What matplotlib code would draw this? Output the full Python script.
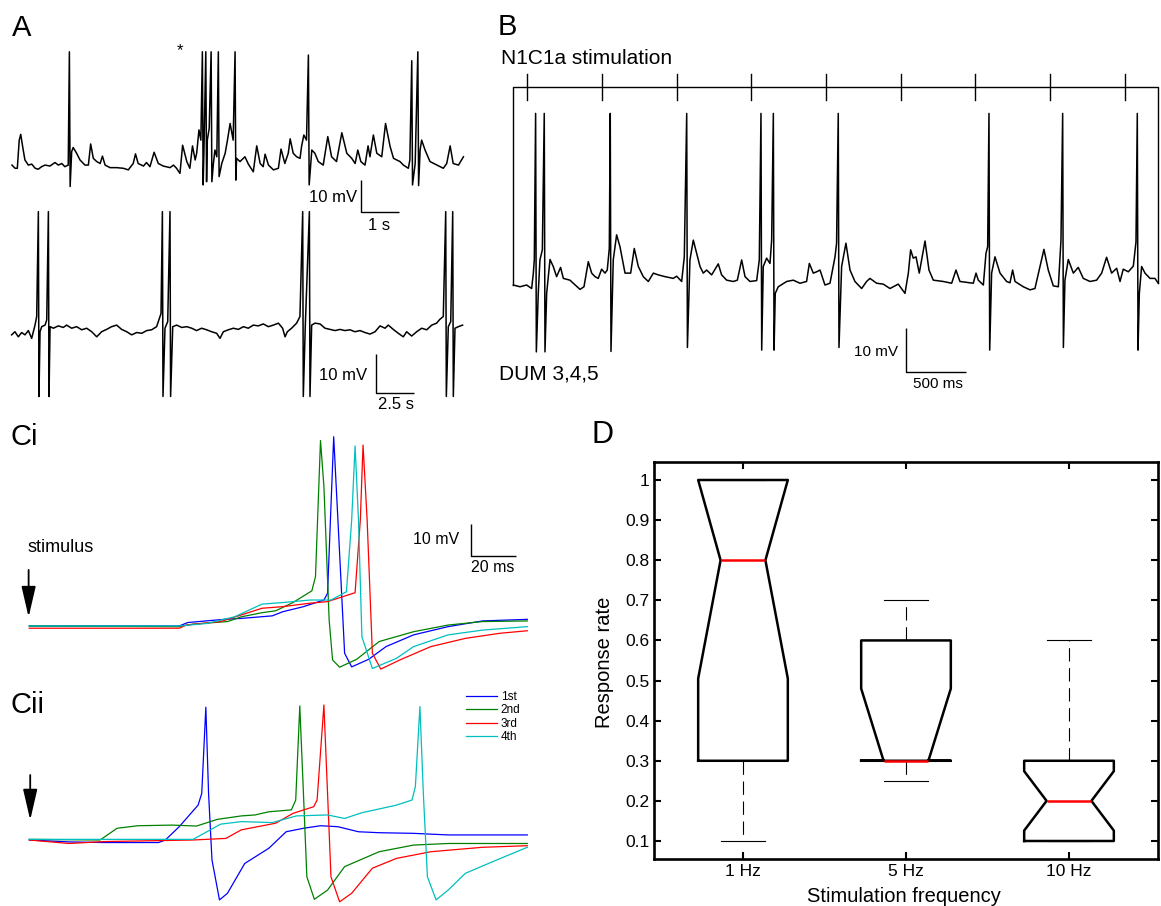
import numpy as np
import matplotlib
matplotlib.use("Agg")
import matplotlib.pyplot as plt

plt.rcParams['font.family'] = ['Liberation Sans', 'DejaVu Sans']

# ---------------------------------------------------------------- data ----
# Panel A, upper recording: (time s, membrane potential mV re. rest)
a_top_trace = [
    (0.00, 0.6), (0.08, -0.4), (0.14, -0.4), (0.19, 8.4), (0.23, 10.2), (0.28, 6.4), (0.34, 2.2),
    (0.43, 0.6), (0.52, 0.9), (0.61, -0.4), (0.69, -0.7), (0.78, 0.1), (0.87, 0.6), (1.00, 0.3),
    (1.13, 1.4), (1.22, 0.6), (1.31, 1.1), (1.39, 0.1), (1.48, 0.6), (1.57, 4.8), (1.61, 6.1),
    (1.70, 4.3), (1.79, 2.2), (1.92, 0.6), (2.01, 0.6), (2.07, 7.2), (2.14, 2.7), (2.23, 1.7),
    (2.32, 1.1), (2.38, 3.4), (2.45, 0.6), (2.58, -0.2), (2.75, -0.2), (2.93, -0.4), (3.06, -0.9),
    (3.19, 1.1), (3.25, 4.1), (3.32, 1.1), (3.46, 0.3), (3.54, 1.4), (3.63, 0.1), (3.74, 4.6),
    (3.85, 1.1), (3.98, 0.3), (4.16, -0.2), (4.25, 0.6), (4.33, -0.4), (4.42, -2.0), (4.49, 6.8),
    (4.60, 1.7), (4.68, -0.4), (4.75, 6.6), (4.82, 2.2), (4.86, 4.3), (4.92, 11.6), (4.97, 8.4),
    (5.05, 4.3), (5.14, 8.4), (5.19, 12.1), (5.30, 1.1), (5.34, 5.3), (5.39, 3.2), (5.52, 1.1),
    (5.61, 4.3), (5.67, 8.4), (5.74, 13.6), (5.82, 8.4), (5.91, 2.7), (6.00, 1.7), (6.13, 3.2),
    (6.22, 0.9), (6.35, -1.5), (6.44, 6.6), (6.53, 1.1), (6.61, 0.1), (6.66, 4.0), (6.75, 0.6),
    (6.88, -0.9), (7.01, -0.4), (7.08, 5.6), (7.18, 1.1), (7.27, 4.3), (7.32, 8.8), (7.40, 4.3),
    (7.49, 3.2), (7.58, 2.7), (7.62, 6.4), (7.68, 10.0), (7.75, 8.4), (7.89, 5.3), (7.97, 4.3),
    (8.06, 1.7), (8.19, 0.6), (8.31, 9.5), (8.41, 3.2), (8.54, 1.7), (8.68, 10.7), (8.81, 4.3),
    (8.94, 2.7), (9.03, 1.1), (9.10, 5.3), (9.18, 1.7), (9.29, 0.6), (9.37, 6.6), (9.42, 3.2),
    (9.51, 10.0), (9.60, 4.3), (9.73, 3.2), (9.83, 13.6), (9.95, 6.4), (10.04, 2.7), (10.21, 1.7),
    (10.30, 0.6), (10.43, -0.4), (10.47, 2.2), (10.61, 1.1), (10.74, 5.3), (10.78, 8.4),
    (10.87, 5.3), (11.00, 1.7), (11.18, 0.6), (11.35, -0.4), (11.44, 1.1), (11.53, 6.6),
    (11.61, 1.1), (11.75, 0.6), (11.88, 3.2),
]
# spikes: (time s, peak mV, undershoot mV)
a_top_spikes = [(1.51, 36, -6.1), (5.01, 36, -5.6), (5.10, 36, -4.6), (5.24, 36, -4.6),
                (5.43, 36, -3.0), (5.87, 36, -4.1), (7.80, 35, -5.6), (10.52, 33.2, -5.6),
                (10.68, 36, -5.8)]

# Panel A, lower recording
a_bot_trace = [
    (0.04, -0.4), (0.26, 0.4), (0.48, -0.9), (0.70, 0.2), (0.92, -0.4), (1.14, 0.7), (1.36, -1.3),
    (1.47, 0.4), (1.58, 2.1), (1.69, 4.3), (1.91, 0.4), (2.02, 1.7), (2.24, 2.1), (2.35, 3.4),
    (2.57, 1.7), (2.79, 1.3), (3.11, 1.9), (3.44, 1.5), (3.66, 2.1), (3.99, 1.3), (4.32, 1.7),
    (4.65, 0.9), (4.98, 1.3), (5.31, 0.4), (5.64, -0.9), (5.96, 0.4), (6.29, 1.0), (6.62, 1.7),
    (6.95, 2.1), (7.28, 1.0), (7.61, 0.4), (7.94, -0.4), (8.27, 0.2), (8.60, 0.0), (8.93, 0.7),
    (9.25, 0.9), (9.58, 1.7), (9.76, 3.8), (9.87, 5.1), (10.13, 1.3), (10.31, 3.0), (10.64, 1.7),
    (10.90, 2.1), (11.23, 1.5), (11.56, 1.7), (11.89, 1.3), (12.21, 0.7), (12.54, 1.3),
    (12.87, 0.9), (13.20, 0.4), (13.53, 0.0), (13.75, -1.3), (13.97, 0.4), (14.30, 0.9),
    (14.63, 1.3), (14.96, 1.0), (15.29, 1.7), (15.61, 1.3), (15.94, 2.1), (16.27, 1.9),
    (16.60, 2.4), (16.93, 1.7), (17.26, 2.1), (17.59, 2.6), (17.87, 1.3), (18.03, -0.9),
    (18.18, 0.4), (18.46, 1.3), (18.79, 2.6), (19.01, 4.3), (19.36, 1.7), (19.78, 2.1),
    (20.00, 2.6), (20.33, 2.4), (20.66, 1.3), (20.99, 1.0), (21.32, 0.7), (21.64, 1.0),
    (21.97, 0.7), (22.30, 0.9), (22.63, 0.4), (22.96, 0.7), (23.29, 0.2), (23.62, -0.2),
    (23.95, 0.4), (24.28, 1.9), (24.61, 1.3), (24.82, 2.1), (25.15, 1.0), (25.48, 0.0),
    (25.81, -0.9), (26.03, 0.4), (26.36, -0.7), (26.69, 0.4), (27.02, 1.3), (27.35, 0.9),
    (27.68, 2.1), (28.00, 2.6), (28.22, 3.6), (28.44, 4.3), (28.77, 1.7), (28.93, 3.0),
    (29.21, 1.3), (29.43, 1.7), (29.71, 2.1),
]
a_bot_spikes = [(1.80, 31.2, -16.2), (2.46, 31.2, -16.2), (9.96, 31.2, -16.2),
                (10.46, 31.2, -16.2), (19.19, 31.2, -16.2), (19.63, 31.2, -16.2),
                (28.60, 31.2, -16.2), (29.06, 31.2, -16.2)]

# Panel B: DUM 3,4,5 recording (time ms, mV) and N1C1a stimulus times (ms)
b_trace = [
    (0, 0.0), (56, -0.4), (111, 0.0), (153, -0.8), (167, 2.7), (175, 5.7), (208, -1.9), (222, 5.7),
    (242, 8.0), (278, -1.9), (306, 5.8), (333, 4.2), (361, 1.9), (394, 4.0), (417, 1.5),
    (472, 1.1), (556, -1.0), (589, -0.4), (625, 5.3), (653, 2.7), (681, 1.9), (708, 1.5),
    (736, 3.6), (764, 2.7), (783, 3.4), (800, 8.3), (833, 5.7), (861, 11.4), (889, 8.7),
    (931, 2.7), (978, 2.7), (1008, 8.3), (1042, 4.2), (1083, 1.9), (1125, 0.8), (1167, 2.7),
    (1208, 2.3), (1264, 1.9), (1333, 1.5), (1361, 2.0), (1403, 0.8), (1425, 6.4), (1472, 5.7),
    (1500, 10.2), (1528, 7.2), (1556, 4.2), (1583, 2.7), (1611, 3.4), (1653, 2.3), (1708, 4.8),
    (1736, 2.3), (1778, 1.1), (1833, 0.8), (1867, 1.1), (1903, 5.7), (1931, 1.9), (1972, 0.8),
    (2028, 1.0), (2050, 5.7), (2083, 4.2), (2111, 6.1), (2139, 4.9), (2153, 10.2), (2183, -1.9),
    (2208, -0.4), (2278, 0.8), (2333, 1.1), (2389, 0.4), (2444, 0.8), (2467, 4.9), (2500, 2.7),
    (2528, 3.0), (2556, 3.4), (2597, 0.0), (2639, 0.4), (2681, 6.4), (2694, 9.5), (2736, 4.2),
    (2772, 9.5), (2806, 3.4), (2847, 0.8), (2903, -0.8), (2944, 0.8), (2972, 1.5), (3028, 0.4),
    (3083, 0.2), (3139, -0.8), (3208, 0.2), (3264, -1.9), (3292, 2.7), (3311, 8.0), (3333, 6.1),
    (3356, 6.4), (3383, 2.7), (3431, 10.0), (3464, 3.4), (3500, 1.1), (3583, 0.8), (3653, 0.4),
    (3689, 3.4), (3722, 0.8), (3806, 0.5), (3833, 0.4), (3856, 2.7), (3875, 1.1), (3917, 0.0),
    (3939, 7.2), (3953, 8.7), (3986, 2.7), (4014, 6.4), (4056, 2.7), (4111, 0.8), (4139, 0.5),
    (4161, 3.4), (4181, 0.8), (4250, -0.4), (4306, -1.1), (4347, -0.8), (4389, 4.2),
    (4422, 8.1), (4458, 3.4), (4500, -0.2), (4542, -0.4), (4564, 10.2), (4597, 1.1),
    (4625, 5.8), (4667, 2.7), (4708, 4.0), (4750, 1.5), (4806, 0.8), (4861, 1.1), (4903, 2.7),
    (4944, 6.3), (4986, 2.7), (5028, 3.8), (5056, 0.8), (5083, 3.6), (5125, 3.0), (5167, 4.3),
    (5189, 9.8), (5217, -1.9), (5236, 4.2), (5264, 2.7), (5306, 1.5), (5347, 1.5), (5375, 0.4),
]
b_spikes = [(186, 39, -15.2), (258, 39, -15.2), (808, 39, -15.1), (1445, 39, -14.2),
            (2064, 39, -14.8), (2167, 39, -14.8), (2708, 39, -14.2), (3964, 39, -14.8),
            (4578, 39, -14.2), (5200, 39, -14.8)]
b_stim_times = [112, 737, 1362, 1983, 2606, 3231, 3850, 4473, 5095]
b_stim_level = 45          # mV level of the stimulus marker line
b_stim_tick = 3            # half height of stimulus tick, mV

# Panel Ci: four responses (time ms after stimulus, mV)
ci_1st = [(0, 0), (65.9, 0), (69.7, 1.1), (85.6, 2.1), (93.2, 2.4), (106.8, 3.2), (111.4, 4.5),
          (120.5, 6.1), (129.5, 8.2), (131.1, 10.3), (133.8, 59.7), (136.4, 22.9), (138.6, -8.6),
          (141.7, -12.9), (149.2, -10.5), (156.8, -6.5), (168.9, -2.8), (184.1, -0.2),
          (199.2, 1.6), (218.9, 2.1)]
ci_2nd = [(0, 0), (65.9, -0.2), (72.0, 0.6), (87.1, 1.4), (93.2, 2.9), (102.3, 4.2), (108.3, 4.8),
          (115.9, 7.4), (124.2, 11.1), (125.8, 15.6), (128.0, 58.5), (129.5, 44.0), (131.8, 1.9),
          (133.3, -10.7), (136.4, -13.0), (143.9, -10.5), (153.8, -4.9), (168.9, -1.8),
          (184.1, 0.3), (199.2, 1.4), (218.9, 1.6)]
ci_3rd = [(0, -0.7), (65.9, -0.7), (68.9, 0.3), (84.1, 1.4), (93.2, 3.5), (102.3, 5.6),
          (111.4, 6.1), (123.5, 7.2), (131.1, 7.7), (143.2, 10.5), (145.5, 33.4), (146.7, 57.1),
          (148.5, 33.4), (150.8, -8.6), (154.5, -13.6), (162.9, -10.7), (176.5, -6.5),
          (191.7, -3.9), (206.8, -2.3), (218.9, -1.5)]
ci_4th = [(0, 0), (65.9, 0), (78.0, 0.8), (90.2, 2.9), (102.3, 6.9), (111.4, 7.4), (123.5, 8.2),
          (132.6, 8.2), (139.4, 10.8), (141.7, 33.4), (143.2, 56.8), (144.7, 33.4), (146.2, -3.4),
          (150.8, -13.4), (161.4, -10.2), (168.9, -6.5), (184.1, -2.8), (199.2, -1.3),
          (218.9, -0.2)]

# Panel Cii
cii_1st = [(0, 0), (17.4, -0.6), (32.6, -0.8), (56.8, -0.8), (59.8, 0), (65.9, 4.2), (74.2, 11.0),
           (75.8, 14.7), (77.6, 41.9), (78.8, 14.7), (80.3, -6.3), (83.6, -18.9), (87.1, -16.8),
           (94.7, -7.4), (105.3, -2.6), (112.9, 2.6), (120.5, 3.7), (128.0, 4.5), (135.6, 4.2),
           (144.7, 2.6), (153.8, 2.3), (168.9, 2.1), (184.1, 1.6), (218.9, 1.6)]
cii_2nd = [(0, 0.2), (31.1, 0), (38.6, 3.7), (47.7, 4.5), (62.9, 4.7), (73.5, 4.4), (82.6, 6.5),
           (93.2, 7.6), (99.2, 7.9), (105.3, 8.9), (115.2, 9.5), (117.1, 12.6), (118.9, 42.3),
           (120.5, 14.7), (122.0, -11.6), (125.3, -18.7), (131.1, -15.8), (138.6, -8.4),
           (153.8, -3.7), (168.9, -1.6), (184.1, -1.1), (218.9, -1.1)]
cii_3rd = [(0, 0), (17.4, -1.1), (32.6, -0.5), (72.0, 0), (86.4, 0.5), (93.2, 3.2), (108.3, 5.3),
           (115.9, 8.4), (125.0, 10.5), (126.5, 12.6), (129.5, 42.6), (131.1, 14.7),
           (132.6, -11.6), (136.4, -19.5), (141.7, -16.8), (150.8, -8.9), (161.4, -5.8),
           (176.5, -3.7), (199.2, -2.3), (218.9, -1.8)]
cii_4th = [(0, 0.2), (72.0, 0.2), (84.1, 5.0), (93.2, 5.8), (106.8, 5.5), (117.4, 7.6),
           (131.1, 7.9), (138.6, 6.8), (146.2, 8.6), (161.4, 11.0), (168.2, 12.6), (169.7, 16.8),
           (171.7, 42.1), (173.2, 14.7), (175.0, -11.6), (178.8, -18.9), (184.1, -15.8),
           (191.7, -10.5), (203.8, -6.8), (218.9, -2.3)]
order_labels = ['1st', '2nd', '3rd', '4th']
order_colors = ['#0000ff', '#008000', '#ff0000', '#00bfbf']

# Panel D: response rate summary per stimulation frequency
freq_labels = ['1 Hz', '5 Hz', '10 Hz']
rate_median = [0.80, 0.30, 0.20]
rate_q1 = [0.30, 0.30, 0.10]
rate_q3 = [1.00, 0.60, 0.30]
rate_whislo = [0.10, 0.25, 0.10]
rate_whishi = [1.00, 0.70, 0.60]
rate_notch_lo = [0.505, 0.30, 0.126]
rate_notch_hi = [1.00, 0.48, 0.274]
rate_ticks = [0.1, 0.2, 0.3, 0.4, 0.5, 0.6, 0.7, 0.8, 0.9, 1.0]
rate_ticklabels = ['0.1', '0.2', '0.3', '0.4', '0.5', '0.6', '0.7', '0.8', '0.9', '1']

# ------------------------------------------------------------- layout -----
W, H = 1161, 906
fig = plt.figure(figsize=(W / 100, H / 100), dpi=100)
fig.patch.set_facecolor('white')


def fx(x):
    return x / W


def fy(y):
    return 1 - y / H


def ftext(x, y, s, **kw):
    return fig.text(fx(x), fy(y), s, **kw)


def trace_axes(box, x0, sx, y0, sy):
    """Blank axes over a pixel box; (x0, y0) is where (0, 0) lands, sx/sy are px per unit."""
    L, T, R, B = box
    ax = fig.add_axes([fx(L), fy(B), (R - L) / W, (B - T) / H])
    ax.set_xlim((L - x0) / sx, (R - x0) / sx)
    ax.set_ylim((y0 - B) / sy, (y0 - T) / sy)
    ax.axis('off')
    return ax


def with_spikes(trace, spikes, dt):
    pts = list(trace)
    for ts, top, bot in spikes:
        pts.append((ts, top))
        pts.append((ts + dt, bot))
    pts.sort(key=lambda p: p[0])
    arr = np.array(pts, dtype=float)
    return arr[:, 0], arr[:, 1]


def scale_bar(ax, x, y, dx, dy, lw=1.0):
    ax.plot([x, x, x + dx], [y + dy, y, y], color='k', lw=lw, solid_capstyle='butt')


# ------------------------------------------------------------- panel A ----
ax_at = trace_axes((0, 30, 480, 240), 12, 38.0, 167, 3.2)
t, v = with_spikes(a_top_trace, a_top_spikes, 0.02)
ax_at.plot(t, v, color='k', lw=1.1)
scale_bar(ax_at, 9.18, -14.06, 1.0, 10.0)

ax_ab = trace_axes((0, 195, 480, 420), 11, 15.2, 333.3, 3.9)
t, v = with_spikes(a_bot_trace, a_bot_spikes, 0.04)
ax_ab.plot(t, v, color='k', lw=1.1)
scale_bar(ax_ab, 24.01, -15.23, 2.5, 10.0)

ftext(12, 36, 'A', fontsize=21, va='baseline')
ftext(180, 55, '*', fontsize=12, ha='center', va='baseline')
ftext(357, 197, '10 mV', fontsize=12, ha='right', va='center')
ftext(379, 225, '1 s', fontsize=12, ha='center', va='center')
ftext(367, 376, '10 mV', fontsize=12, ha='right', va='center')
ftext(396, 404, '2.5 s', fontsize=12, ha='center', va='center')

# ------------------------------------------------------------- panel B ----
ax_b = trace_axes((490, 40, 1161, 400), 513.3, 0.12, 285, 4.4)
t, v = with_spikes(b_trace, b_spikes, 6)
ax_b.plot(t, v, color='k', lw=1.1)
t_end = b_trace[-1][0]
ax_b.plot([0, 0, t_end, t_end], [b_trace[0][1], b_stim_level, b_stim_level, b_trace[-1][1]],
          color='k', lw=1.0)
for ts in b_stim_times:
    ax_b.plot([ts, ts], [b_stim_level - b_stim_tick, b_stim_level + b_stim_tick], color='k', lw=1.0)
scale_bar(ax_b, 3272, -19.84, 500, 10.0)

ftext(498, 35, 'B', fontsize=21, va='baseline')
ftext(501, 64, 'N1C1a stimulation', fontsize=15, va='baseline')
ftext(499, 379, 'DUM 3,4,5', fontsize=15, va='baseline')
ftext(898, 352, '10 mV', fontsize=11, ha='right', va='center')
ftext(938, 384, '500 ms', fontsize=11, ha='center', va='center')

# ------------------------------------------------------------- panel C ----
arrow_style = '-|>,head_length=0.95,head_width=0.22'

ax_ci = trace_axes((0, 425, 540, 680), 29.3, 2.275, 626, 3.17)
for tr, col in zip([ci_1st, ci_2nd, ci_3rd, ci_4th], order_colors):
    arr = np.array(tr, dtype=float)
    ax_ci.plot(arr[:, 0], arr[:, 1], color=col, lw=0.9)
scale_bar(ax_ci, 194, 22.2, 20, 10.0)
ax_ci.annotate('', xy=(-0.3, 2.8), xytext=(-0.3, 17.7),
               arrowprops=dict(arrowstyle=arrow_style, color='k', lw=1.3, mutation_scale=20,
                               shrinkA=0, shrinkB=0))
ftext(10, 445, 'Ci', fontsize=21, va='baseline')
ftext(27, 548, 'stimulus', fontsize=13, va='center')
ftext(459, 540, '10 mV', fontsize=11.5, ha='right', va='center')
ftext(493, 568, '20 ms', fontsize=11.5, ha='center', va='center')

ax_cii = trace_axes((0, 680, 540, 906), 29.3, 2.275, 840, 3.17)
for tr, col, lab in zip([cii_1st, cii_2nd, cii_3rd, cii_4th], order_colors, order_labels):
    arr = np.array(tr, dtype=float)
    ax_cii.plot(arr[:, 0], arr[:, 1], color=col, lw=0.9, label=lab)
ax_cii.annotate('', xy=(0.4, 6.3), xytext=(0.4, 20.5),
                arrowprops=dict(arrowstyle=arrow_style, color='k', lw=1.3, mutation_scale=20,
                                shrinkA=0, shrinkB=0))
ax_cii.legend(loc='upper left', bbox_to_anchor=(fx(466), fy(691)), bbox_transform=fig.transFigure,
              frameon=False, fontsize=8.5, handlelength=2.6, handletextpad=0.35,
              labelspacing=0.12, borderpad=0, borderaxespad=0)
ftext(10, 713, 'Cii', fontsize=21, va='baseline')

# ------------------------------------------------------------- panel D ----
ax_d = fig.add_axes([fx(654), fy(859), (1158 - 654) / W, (859 - 461.7) / H])
stats = []
for i in range(len(freq_labels)):
    stats.append(dict(med=rate_median[i], q1=rate_q1[i], q3=rate_q3[i],
                      whislo=rate_whislo[i], whishi=rate_whishi[i],
                      cilo=rate_notch_lo[i], cihi=rate_notch_hi[i], fliers=[]))
ax_d.bxp(stats, positions=[1, 2, 3], widths=0.55, shownotches=True, showfliers=False,
         boxprops=dict(color='k', lw=1.8),
         medianprops=dict(color='#ff0000', lw=1.8),
         whiskerprops=dict(color='k', lw=0.8, linestyle=(0, (12, 6))),
         capprops=dict(color='k', lw=0.8))
ax_d.set_xlim(0.454, 3.546)
ax_d.set_ylim(0.0551, 1.0456)
ax_d.set_xticks([1, 2, 3])
ax_d.set_xticklabels(freq_labels, fontsize=12.5)
ax_d.set_yticks(rate_ticks)
ax_d.set_yticklabels(rate_ticklabels, fontsize=12.5)
ax_d.tick_params(direction='in', length=5, width=1.5, top=True, right=True, pad=3.5)
for sp in ax_d.spines.values():
    sp.set_linewidth(1.9)
ftext(591, 443, 'D', fontsize=22, va='baseline')
ftext(604, 662, 'Response rate', fontsize=14.5, rotation=90, ha='center', va='center')
ftext(904, 902, 'Stimulation frequency', fontsize=14.5, ha='center', va='baseline')

fig.savefig('out.png', dpi=100, facecolor='white')
